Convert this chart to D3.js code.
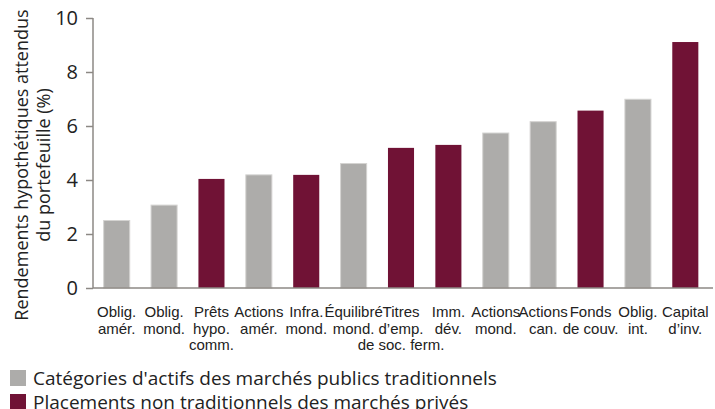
<!DOCTYPE html>
<html>
<head>
<meta charset="utf-8">
<script src="https://cdn.jsdelivr.net/npm/d3@7"></script>
<style>
  body { margin: 0; background: #fff; }
  svg { display: block; }
</style>
</head>
<body>
<div id="chart"></div>
<script>
// Catégories (lignes des étiquettes)
const categories = [
  ["Oblig.", "amér."],
  ["Oblig.", "mond."],
  ["Prêts", "hypo.", "comm."],
  ["Actions", "amér."],
  ["Infra.", "mond."],
  ["Équilibré", "mond."],
  ["Titres", "d’emp.", "de soc. ferm."],
  ["Imm.", "dév."],
  ["Actions", "mond."],
  ["Actions", "can."],
  ["Fonds", "de couv."],
  ["Oblig.", "int."],
  ["Capital", "d’inv."]
];
const values = [2.5, 3.07, 4.04, 4.19, 4.19, 4.61, 5.19, 5.3, 5.74, 6.16, 6.57, 6.99, 9.11];
// 0 = marchés publics traditionnels, 1 = marchés privés
const groups = [0, 0, 1, 0, 1, 0, 1, 1, 0, 0, 1, 0, 1];
const yTicks = [0, 2, 4, 6, 8, 10];
const legendLabels = [
  "Catégories d'actifs des marchés publics traditionnels",
  "Placements non traditionnels des marchés privés"
];
const colors = ["#adacaa", "#701235"];

const width = 715;
const height = 409;
const margin = { left: 93, right: 6, top: 18, bottom: 121 };

const svg = d3.select("#chart")
  .append("svg")
  .attr("width", width)
  .attr("height", height);

const x = d3.scaleBand()
  .domain(d3.range(categories.length))
  .range([margin.left, width - margin.right])
  .paddingInner(0.45)
  .paddingOuter(0.225);

const y = d3.scaleLinear()
  .domain([0, 10])
  .range([height - margin.bottom, margin.top]);

// bars
svg.append("g")
  .selectAll("rect")
  .data(values)
  .enter().append("rect")
  .attr("x", (d, i) => x(i))
  .attr("y", d => y(d))
  .attr("width", x.bandwidth())
  .attr("height", d => y(0) - y(d))
  .attr("fill", (d, i) => colors[groups[i]])
  .attr("stroke", (d, i) => groups[i] === 0 ? "#d4d3d1" : "none")
  .attr("stroke-width", 1);

// y axis
const yAxis = svg.append("g")
  .attr("transform", `translate(${margin.left},0)`)
  .call(d3.axisLeft(y).tickValues(yTicks).tickSize(7).tickPadding(8));
yAxis.select(".domain").attr("stroke", "#8c8884").attr("stroke-width", 1.5)
  .attr("d", `M0,${y(10)}V${y(0)}`);
yAxis.selectAll(".tick line").attr("stroke", "#8c8884").attr("stroke-width", 1.5);
yAxis.selectAll(".tick text")
  .attr("fill", "#222")
  .style("font-family", "'Open Sans', sans-serif")
  .style("font-size", "20px");

// x baseline
svg.append("line")
  .attr("x1", margin.left)
  .attr("x2", width - 2)
  .attr("y1", y(0))
  .attr("y2", y(0))
  .attr("stroke", "#8c8884")
  .attr("stroke-width", 1.5);

// category labels
const lab = svg.append("g")
  .selectAll("text")
  .data(categories)
  .enter().append("text")
  .attr("text-anchor", "middle")
  .attr("fill", "#222")
  .style("font-family", "'Liberation Sans Narrow', 'Arial Narrow', sans-serif")
  .style("font-size", "15px")
  .attr("transform", (d, i) => `translate(${x(i) + x.bandwidth() / 2},${y(0) + 29})`);
lab.selectAll("tspan")
  .data(d => d)
  .enter().append("tspan")
  .attr("x", 0)
  .attr("y", (d, j) => j * 16.5)
  .text(d => d);

// y title
const title = svg.append("text")
  .attr("transform", `translate(0,${(y(0) + y(10)) / 2 + 12}) rotate(-90)`)
  .attr("text-anchor", "middle")
  .attr("fill", "#222")
  .style("font-family", "'Open Sans', sans-serif")
  .style("font-size", "18px");
title.append("tspan").attr("x", 0).attr("y", 28).text("Rendements hypothétiques attendus");
title.append("tspan").attr("x", 0).attr("y", 50).text("du portefeuille (%)");

// legend
const legend = svg.append("g")
  .selectAll("g")
  .data(legendLabels)
  .enter().append("g")
  .attr("transform", (d, i) => `translate(10,${370 + i * 24})`);
legend.append("rect")
  .attr("width", 16)
  .attr("height", 16)
  .attr("fill", (d, i) => colors[i]);
legend.append("text")
  .attr("x", 23)
  .attr("y", 15)
  .attr("fill", "#222")
  .style("font-family", "'Open Sans', sans-serif")
  .style("font-size", "19px")
  .text(d => d);
</script>
</body>
</html>
